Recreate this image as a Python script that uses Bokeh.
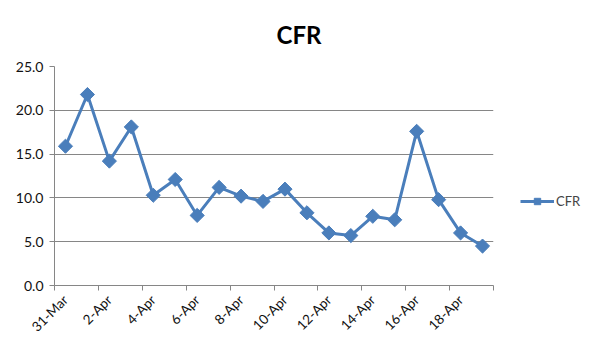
import math
from bokeh.plotting import figure
from bokeh.models import FixedTicker, Range1d, Legend, LegendItem, PrintfTickFormatter, ColumnDataSource
from bokeh.embed import file_html
from bokeh.resources import INLINE

dates = ["31-Mar", "1-Apr", "2-Apr", "3-Apr", "4-Apr", "5-Apr", "6-Apr", "7-Apr", "8-Apr", "9-Apr",
         "10-Apr", "11-Apr", "12-Apr", "13-Apr", "14-Apr", "15-Apr", "16-Apr", "17-Apr", "18-Apr", "19-Apr"]
cfr = [15.9, 21.8, 14.2, 18.1, 10.3, 12.1, 8.0, 11.2, 10.2, 9.6,
       11.0, 8.3, 6.0, 5.7, 7.9, 7.5, 17.6, 9.8, 6.0, 4.5]
y_ticks = [0, 5, 10, 15, 20, 25]

idx = list(range(len(dates)))
src = ColumnDataSource(dict(x=idx, y=cfr))

BLUE = "#4a7ebb"
GRID = "#868686"

p = figure(width=598, height=354, output_backend="svg", toolbar_location=None,
           x_range=Range1d(-0.5, len(dates) - 0.5), y_range=Range1d(0, 25),
           min_border_left=54, min_border_right=16, min_border_top=66, min_border_bottom=69)
p.frame_width = 439
p.frame_height = 219

p.title.text = "CFR"
p.title.text_font = "Lato"
p.title.text_font_size = "24px"
p.title.text_font_style = "bold"
p.title.text_color = "#000000"
p.title.align = "left"
p.title.offset = 222
p.title.standoff = 35

p.outline_line_color = None
p.background_fill_color = "white"
p.border_fill_color = "white"

ln = p.line("x", "y", source=src, line_color=BLUE, line_width=3)
sc = p.scatter("x", "y", source=src, marker="square", angle=math.pi / 4, size=10,
               fill_color=BLUE, line_color=BLUE)

# x axis
p.xaxis.ticker = FixedTicker(ticks=idx[::2], minor_ticks=[i - 0.5 for i in range(len(dates) + 1)][::2])
p.xaxis.major_label_overrides = {i: dates[i] for i in idx}
p.xaxis.major_label_orientation = math.pi / 4
p.xaxis.major_tick_out = 0
p.xaxis.major_tick_in = 0
p.xaxis.minor_tick_out = 5
p.xaxis.minor_tick_in = 0
p.xaxis.minor_tick_line_color = GRID
p.xaxis.axis_line_color = GRID
p.xaxis.major_label_text_font = "Lato"
p.xaxis.major_label_text_font_size = "13.5px"
p.xaxis.major_label_text_color = "#111111"
p.xaxis.major_label_standoff = 7

# y axis
p.yaxis.ticker = FixedTicker(ticks=y_ticks, minor_ticks=[])
p.yaxis.formatter = PrintfTickFormatter(format="%.1f")
p.yaxis.major_tick_out = 5
p.yaxis.major_tick_in = 0
p.yaxis.major_tick_line_color = GRID
p.yaxis.minor_tick_line_color = None
p.yaxis.axis_line_color = GRID
p.yaxis.major_label_text_font = "Lato"
p.yaxis.major_label_text_font_size = "14px"
p.yaxis.major_label_text_color = "#111111"
p.yaxis.major_label_standoff = 6

p.xgrid.grid_line_color = None
p.ygrid.grid_line_color = GRID
p.ygrid.grid_line_width = 1

legend = Legend(items=[LegendItem(label="CFR", renderers=[ln, sc])],
                location=(27, 76), orientation="vertical",
                border_line_color=None, background_fill_alpha=0,
                padding=0, margin=0, glyph_width=34, glyph_height=16,
                label_text_font="Lato", label_text_font_size="13px", label_standoff=2)
p.add_layout(legend, "right")

open("out.html", "w").write(file_html(p, INLINE))
